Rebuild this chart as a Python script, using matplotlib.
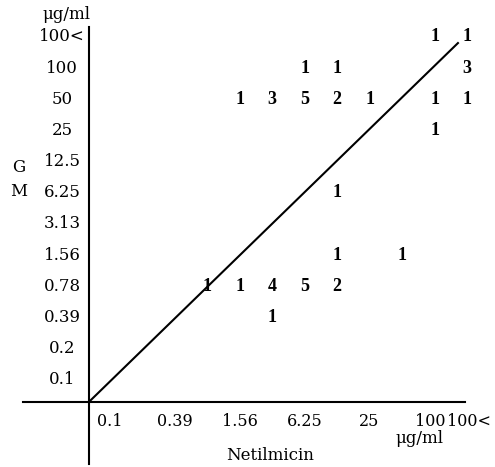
import matplotlib.pyplot as plt

plt.rcParams['font.family'] = ['DejaVu Serif']

# concentration classes (same for both axes)
levels = ["0.1", "0.2", "0.39", "0.78", "1.56", "3.13", "6.25", "12.5", "25", "50", "100", "100<"]
x_shown = ["0.1", "0.39", "1.56", "6.25", "25", "100", "100<"]

# number of strains: (Netilmicin MIC, GM MIC, count)
netil = ["100", "100<", "6.25", "12.5", "100<", "1.56", "3.13", "6.25", "12.5", "25", "100", "100<",
         "100", "12.5", "12.5", "50", "0.78", "1.56", "3.13", "6.25", "12.5", "3.13"]
gm = ["100<", "100<", "100", "100", "100", "50", "50", "50", "50", "50", "50", "50",
      "25", "6.25", "1.56", "1.56", "0.78", "0.78", "0.78", "0.78", "0.78", "0.39"]
counts = [1, 1, 1, 1, 3, 1, 3, 5, 2, 1, 1, 1,
          1, 1, 1, 1, 1, 1, 4, 5, 2, 1]

fig = plt.figure(figsize=(4.95, 4.67), dpi=100)
ax = fig.add_axes([0, 0, 1, 1])
ax.set_xlim(-3.37, 11.86)
ax.set_ylim(-2.79, 12.18)
ax.axis("off")

x0, y0 = -0.63, -0.7
# axes
ax.plot([-2.65, 10.95], [y0, y0], color="black", lw=1.5)
ax.plot([x0, x0], [-2.7, 11.3], color="black", lw=1.5)
# diagonal
ax.plot([x0, 10.72], [y0, 10.8], color="black", lw=1.5)

# y tick labels
for j, lab in enumerate(levels):
    ax.text(-1.46, j, lab, ha="center", va="center", fontsize=12)

# x tick labels
for lab in x_shown:
    i = levels.index(lab)
    if lab == "100":
        i -= 0.12
    elif lab == "100<":
        i += 0.05
    ax.text(i, -1.32, lab, ha="center", va="center", fontsize=11.5)

# counts
for xv, yv, c in zip(netil, gm, counts):
    ax.text(levels.index(xv), levels.index(yv), str(c), ha="center", va="center",
            fontsize=13, fontweight="bold", family="Liberation Serif")

ax.text(-1.34, 11.7, "μg/ml", ha="center", va="center", fontsize=12)
ax.text(9.55, -1.88, "μg/ml", ha="center", va="center", fontsize=12)
ax.text(4.94, -2.43, "Netilmicin", ha="center", va="center", fontsize=12)
ax.text(-2.8, 6.8, "G", ha="center", va="center", fontsize=12)
ax.text(-2.8, 6.05, "M", ha="center", va="center", fontsize=12)

fig.savefig("out.png", dpi=100)
